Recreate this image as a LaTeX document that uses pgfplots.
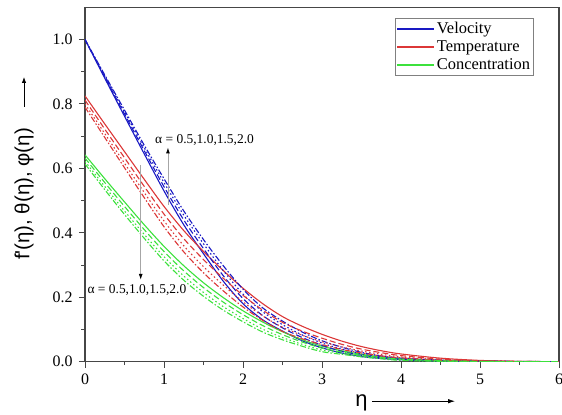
\documentclass[border=0pt]{standalone}
\usepackage{fontspec}
\setmainfont{Liberation Serif}
\newfontfamily\arial{Liberation Sans}
\usepackage{pgfplots}
\usepackage{pgfplotstable}
\pgfplotsset{compat=1.18}
\usetikzlibrary{arrows.meta}
\definecolor{cblue}{RGB}{25,25,195}
\definecolor{cred}{RGB}{220,55,55}
\definecolor{cgreen}{RGB}{60,225,60}
\definecolor{axgray}{RGB}{70,70,70}

\pgfplotstableread{
eta a b c d
0 1.000 1.000 1.000 1.000
0.25 0.880 0.884 0.887 0.890
0.5 0.762 0.769 0.775 0.781
0.75 0.645 0.655 0.664 0.672
1.0 0.530 0.543 0.556 0.568
1.25 0.425 0.440 0.455 0.468
1.5 0.335 0.351 0.366 0.379
1.75 0.250 0.267 0.283 0.298
2.0 0.180 0.196 0.210 0.225
2.25 0.130 0.143 0.155 0.167
2.5 0.095 0.105 0.115 0.126
2.75 0.065 0.075 0.083 0.092
3.0 0.043 0.051 0.058 0.065
3.25 0.027 0.032 0.039 0.045
3.5 0.016 0.020 0.024 0.029
3.75 0.010 0.012 0.015 0.018
4.0 0.006 0.008 0.010 0.011
4.5 0.002 0.003 0.004 0.005
5.0 0.001 0.001 0.001 0.002
5.5 0.000 0.000 0.000 0.001
6.0 0.000 0.000 0.000 0.000
}\velo

\pgfplotstableread{
eta a b c d
0 0.825 0.812 0.800 0.790
0.25 0.738 0.722 0.708 0.696
0.5 0.652 0.633 0.616 0.602
0.75 0.566 0.544 0.525 0.509
1.0 0.482 0.458 0.437 0.419
1.25 0.407 0.382 0.360 0.341
1.5 0.342 0.317 0.295 0.276
1.75 0.283 0.259 0.238 0.220
2.0 0.228 0.206 0.186 0.170
2.25 0.180 0.160 0.142 0.128
2.5 0.140 0.122 0.107 0.094
2.75 0.110 0.095 0.082 0.071
3.0 0.085 0.073 0.062 0.053
3.25 0.064 0.054 0.046 0.038
3.5 0.047 0.039 0.033 0.027
3.75 0.034 0.028 0.023 0.018
4.0 0.024 0.019 0.015 0.012
4.5 0.011 0.008 0.006 0.004
5.0 0.004 0.003 0.002 0.001
5.5 0.001 0.001 0.001 0.000
6.0 0.000 0.000 0.000 0.000
}\temp

\pgfplotstableread{
eta a b c d
0 0.642 0.632 0.622 0.614
0.25 0.568 0.556 0.544 0.534
0.5 0.496 0.482 0.468 0.457
0.75 0.425 0.410 0.395 0.383
1.0 0.358 0.342 0.326 0.313
1.25 0.298 0.282 0.266 0.253
1.5 0.245 0.230 0.215 0.203
1.75 0.199 0.185 0.171 0.160
2.0 0.158 0.146 0.134 0.124
2.25 0.123 0.112 0.101 0.092
2.5 0.093 0.084 0.075 0.068
2.75 0.068 0.061 0.054 0.048
3.0 0.048 0.042 0.036 0.031
3.25 0.034 0.030 0.026 0.023
3.5 0.023 0.020 0.017 0.015
3.75 0.015 0.013 0.011 0.009
4.0 0.010 0.008 0.006 0.004
4.5 0.004 0.003 0.002 0.001
5.0 0.001 0.001 0.000 0.000
5.5 0.000 0.000 0.000 0.000
6.0 0.000 0.000 0.000 0.000
}\conc

\begin{document}
\begin{tikzpicture}
\path[use as bounding box] (-85bp,-53.3bp) rectangle (477bp,361.7bp);
\begin{axis}[
  at={(0,0)}, anchor=south west,
  scale only axis, width=474bp, height=354.4bp,
  xmin=0, xmax=6, ymin=0, ymax=1.1,
  xtick={0,1,2,3,4,5,6}, ytick={0,0.2,0.4,0.6,0.8,1.0},
  minor xtick={0.5,1.5,2.5,3.5,4.5,5.5},
  minor ytick={0.1,0.3,0.5,0.7,0.9},
  xtick pos=bottom, ytick pos=left,
  tick align=outside,
  major tick length=6bp, minor tick length=3.5bp,
  every tick/.style={axgray, line width=1bp},
  axis line style={axgray, line width=1.2bp},
  /pgf/number format/assume math mode=true,
  yticklabel style={/pgf/number format/fixed, /pgf/number format/fixed zerofill, /pgf/number format/precision=1},
  ticklabel style={font=\fontsize{16}{19}\selectfont},
  xticklabel style={yshift=-3bp},
  yticklabel style={xshift=-3bp},
  legend style={at={(0.9458,0.969)}, anchor=north east, draw=gray, line width=0.6bp,
    font=\fontsize{16.5}{19}\selectfont, inner xsep=1bp, inner ysep=2bp,
    row sep=1.5bp},
  legend cell align=left,
  legend image code/.code={\draw[#1, solid, line width=1.4bp] (0bp,0bp) -- (37bp,0bp);},
  every axis plot/.append style={line width=1.1bp, smooth, tension=0.5},
]
\addplot[cblue] table[x=eta,y=a]{\velo}; \addlegendentry{Velocity}
\addplot[cred] table[x=eta,y=a]{\temp}; \addlegendentry{Temperature}
\addplot[cgreen] table[x=eta,y=a]{\conc}; \addlegendentry{Concentration}

\addplot[cblue, dash pattern=on 6bp off 3bp, forget plot] table[x=eta,y=b]{\velo};
\addplot[cblue, dash pattern=on 1.5bp off 2.5bp, forget plot] table[x=eta,y=c]{\velo};
\addplot[cblue, dash pattern=on 6bp off 2bp on 1.5bp off 2bp, forget plot] table[x=eta,y=d]{\velo};

\addplot[cred, dash pattern=on 6bp off 3bp, forget plot] table[x=eta,y=b]{\temp};
\addplot[cred, dash pattern=on 1.5bp off 2.5bp, forget plot] table[x=eta,y=c]{\temp};
\addplot[cred, dash pattern=on 6bp off 2bp on 1.5bp off 2bp, forget plot] table[x=eta,y=d]{\temp};

\addplot[cgreen, dash pattern=on 6bp off 3bp, forget plot] table[x=eta,y=b]{\conc};
\addplot[cgreen, dash pattern=on 1.5bp off 2.5bp, forget plot] table[x=eta,y=c]{\conc};
\addplot[cgreen, dash pattern=on 6bp off 2bp on 1.5bp off 2bp, forget plot] table[x=eta,y=d]{\conc};

\draw[gray!70, line width=0.9bp, -{Latex[length=6bp,width=4bp,color=black]}] (axis cs:1.05,0.486) -- (axis cs:1.05,0.665);
\node[anchor=west, inner sep=0pt, font=\fontsize{13.5}{15}\selectfont] at (axis cs:0.886,0.689) {α = 0.5,1.0,1.5,2.0};
\draw[gray!70, line width=0.9bp, -{Latex[length=6bp,width=4bp,color=black]}] (axis cs:0.705,0.61) -- (axis cs:0.705,0.254);
\node[anchor=west, inner sep=0pt, font=\fontsize{13.5}{15}\selectfont] at (axis cs:0.03,0.222) {α = 0.5,1.0,1.5,2.0};
\end{axis}
\node[rotate=90, inner sep=0pt, font=\arial\fontsize{20.5}{22}\selectfont] at (-61bp,167.7bp) {f'(η), θ(η), φ(η)};
\draw[line width=0.8bp, -{Latex[length=6bp,width=4.5bp]}] (-61bp,254.7bp) -- (-61bp,284.7bp);
\node[inner sep=0pt, font=\arial\fontsize{22}{24}\selectfont] at (276.5bp,-41bp) {η};
\draw[line width=0.8bp, -{Latex[length=7bp,width=4.5bp]}] (287bp,-39.5bp) -- (370bp,-39.5bp);
\end{tikzpicture}
\end{document}
